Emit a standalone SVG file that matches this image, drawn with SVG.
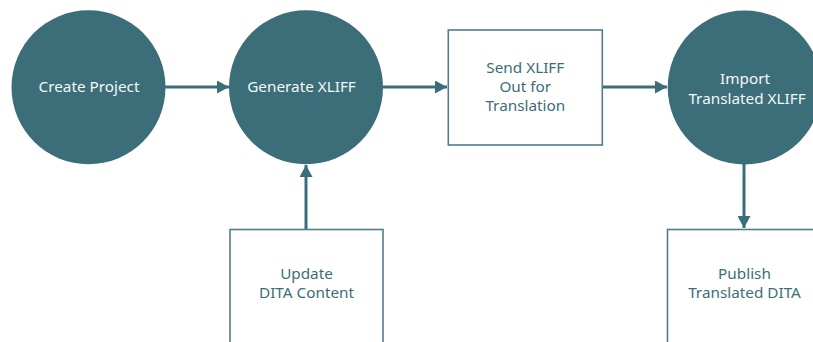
<svg xmlns="http://www.w3.org/2000/svg" width="813" height="342" viewBox="0 0 813 342">
<style>
.c{fill:#3b6e78}
.b{fill:#fff;stroke:#4f7f88;stroke-width:1.6}
.t{font-family:"Noto Sans","Open Sans",sans-serif;font-size:15.3px;text-anchor:middle}
.w{fill:#f4f7f7}
.d{fill:#3b6e78}
.e{stroke:#3b6e78;stroke-width:3;fill:none}
</style>
<defs>
<marker id="ah" viewBox="0 0 12 13" refX="12" refY="6.5" markerWidth="12" markerHeight="13" markerUnits="userSpaceOnUse" orient="auto">
<path d="M0,0L12,6.5L0,13Z" fill="#3b6e78"/>
</marker>
</defs>
<g id="connectors">
<path class="e" d="M165,87H229" marker-end="url(#ah)"/>
<path class="e" d="M383,87H447" marker-end="url(#ah)"/>
<path class="e" d="M602,87H667" marker-end="url(#ah)"/>
<path class="e" d="M306,229V165" marker-end="url(#ah)"/>
<path class="e" d="M744,164V228" marker-end="url(#ah)"/>
</g>
<g id="create-project">
<circle class="c" cx="88.5" cy="87.3" r="77"/>
<text class="t w" x="89" y="91.5">Create Project</text>
</g>
<g id="generate-xliff">
<circle class="c" cx="306" cy="87.3" r="77"/>
<text class="t w" x="301.5" y="91.5">Generate XLIFF</text>
</g>
<g id="send-xliff">
<rect class="b" x="448.3" y="30" width="154" height="115"/>
<text class="t d" x="525.3" y="73.3">Send XLIFF</text>
<text class="t d" x="525.3" y="92.3">Out for</text>
<text class="t d" x="525.3" y="111.3">Translation</text>
</g>
<g id="import-xliff">
<circle class="c" cx="744.7" cy="87.5" r="77"/>
<text class="t w" x="745" y="84">Import</text>
<text class="t w" x="747" y="103.5">Translated XLIFF</text>
</g>
<g id="update-dita">
<rect class="b" x="230" y="229.5" width="153" height="130"/>
<text class="t d" x="306.5" y="279.3">Update</text>
<text class="t d" x="306.5" y="298.3">DITA Content</text>
</g>
<g id="publish-dita">
<rect class="b" x="667.5" y="229.5" width="155" height="130"/>
<text class="t d" x="744.5" y="279.3">Publish</text>
<text class="t d" x="744.5" y="298.3">Translated DITA</text>
</g>
</svg>
